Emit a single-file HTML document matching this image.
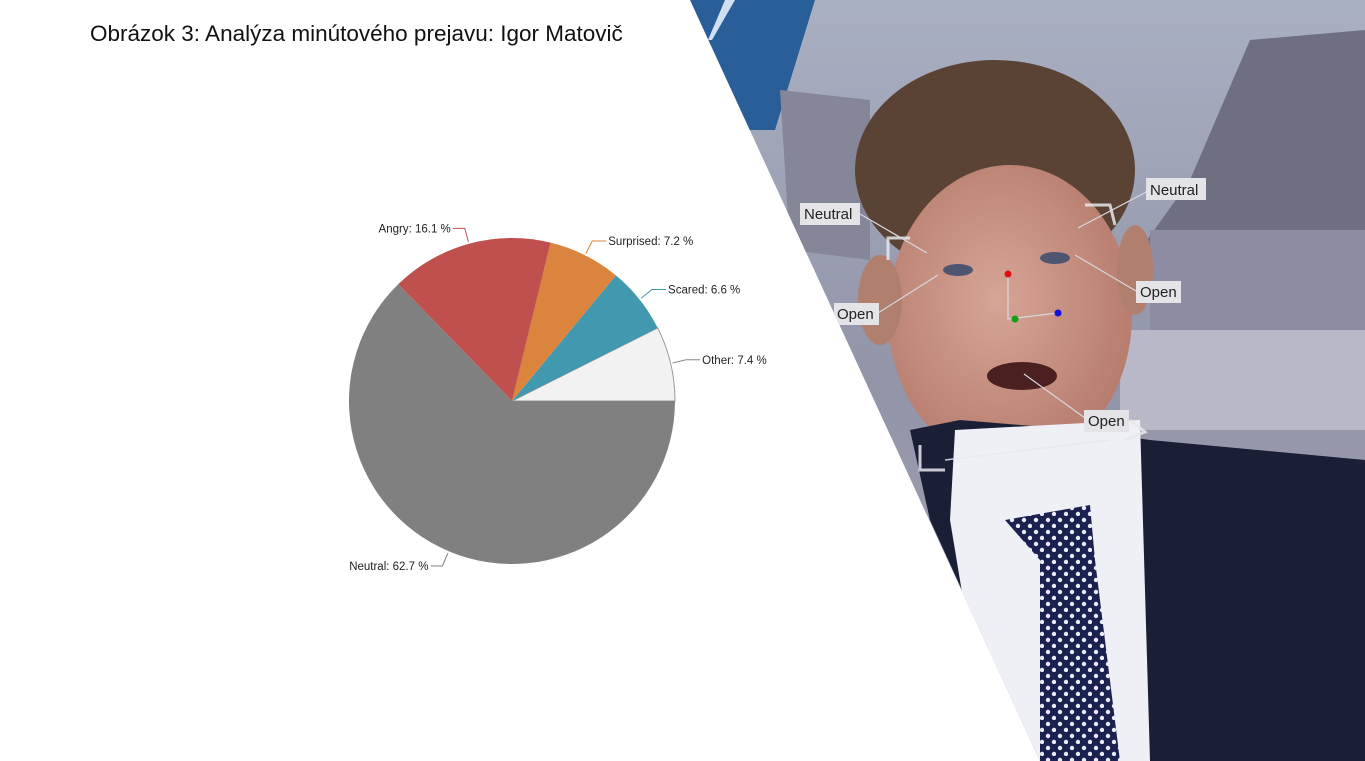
<!DOCTYPE html>
<html><head><meta charset="utf-8"><style>
body{margin:0;width:1365px;height:761px;overflow:hidden;background:#fff;font-family:"Liberation Sans",sans-serif}
#title{position:absolute;left:90px;top:21px;font-size:22.5px;color:#111;white-space:nowrap}
svg{position:absolute;left:0;top:0}
</style></head><body>
<svg width="1365" height="761">
<defs>
<clipPath id="cp"><polygon points="690,0 1365,0 1365,761 1040,761"/></clipPath>
<linearGradient id="bg" x1="0" y1="0" x2="0" y2="1"><stop offset="0" stop-color="#a9b0c2"/><stop offset="0.5" stop-color="#9294a8"/><stop offset="1" stop-color="#a7a5b5"/></linearGradient>
<radialGradient id="skin" cx="0.45" cy="0.45" r="0.6"><stop offset="0" stop-color="#d6a596"/><stop offset="1" stop-color="#b57a6b"/></radialGradient>
<pattern id="dots" width="12" height="12" patternUnits="userSpaceOnUse"><rect width="12" height="12" fill="#1b2250"/><circle cx="4" cy="4" r="2.2" fill="#e8ecf5"/><circle cx="10" cy="10" r="2.2" fill="#e8ecf5"/></pattern>
</defs>
<g clip-path="url(#cp)">
<rect x="680" y="0" width="690" height="761" fill="url(#bg)"/>
<polygon points="690,0 815,0 775,130 745,130" fill="#2a5e98"/>
<polygon points="725,0 735,0 712,40 708,40" fill="#cfe0f0"/>
<polygon points="780,90 870,100 870,260 790,250" fill="#858799"/>
<polygon points="1250,40 1365,30 1365,300 1140,250 1190,180" fill="#6e7082"/>
<rect x="1150" y="230" width="215" height="200" fill="#8e8ca2"/>
<rect x="1120" y="330" width="245" height="100" fill="#b9b8c8"/>
<ellipse cx="995" cy="170" rx="140" ry="110" fill="#5a4335"/>
<ellipse cx="1010" cy="315" rx="122" ry="150" fill="url(#skin)"/>
<ellipse cx="880" cy="300" rx="22" ry="45" fill="#b07f6e"/>
<ellipse cx="1135" cy="270" rx="18" ry="45" fill="#b07f6e"/>
<polygon points="910,430 960,420 1080,430 1150,440 1365,460 1365,761 1040,761 930,520" fill="#1a1f36"/>
<polygon points="955,430 1140,420 1150,761 990,761 950,520" fill="#eef0f6"/>
<polygon points="1005,520 1090,505 1095,560 1120,761 1040,761 1040,560" fill="url(#dots)"/>
<ellipse cx="1022" cy="376" rx="35" ry="14" fill="#4a2020"/>
<ellipse cx="958" cy="270" rx="15" ry="6" fill="#4d5570"/>
<ellipse cx="1055" cy="258" rx="15" ry="6" fill="#4d5570"/>
<g fill="none" stroke="#e8e8ee" stroke-width="3" opacity="0.85">
<polyline points="888,260 888,238 910,238"/><polyline points="920,445 920,470 945,470"/>
<polyline points="1085,205 1110,205 1115,225"/><polyline points="1130,420 1145,432 1125,440"/>
<line x1="945" y1="460" x2="1110" y2="440" stroke-width="1.5"/>
</g>
<g fill="none" stroke="#d8d8de" stroke-width="1.2"><line x1="860" y1="214" x2="927" y2="253"/><line x1="1150" y1="190" x2="1078" y2="228"/><line x1="878" y1="313" x2="938" y2="275"/><line x1="1136" y1="291" x2="1075" y2="255"/><line x1="1085" y1="418" x2="1024" y2="374"/><polyline points="1008,274 1008,319 1058,313"/></g>
<circle cx="1008" cy="274" r="3.5" fill="#e01010"/><circle cx="1015" cy="319" r="3.5" fill="#10a010"/><circle cx="1058" cy="313" r="3.5" fill="#1010e0"/>
<g font-size="15" fill="#222">
<rect x="800" y="203" width="60" height="22" fill="#e4e4e8"/><text x="804" y="219">Neutral</text>
<rect x="1146" y="178" width="60" height="22" fill="#e4e4e8"/><text x="1150" y="195">Neutral</text>
<rect x="834" y="303" width="45" height="22" fill="#e4e4e8"/><text x="837" y="319">Open</text>
<rect x="1136" y="281" width="45" height="22" fill="#e4e4e8"/><text x="1140" y="297">Open</text>
<rect x="1084" y="410" width="45" height="22" fill="#e4e4e8"/><text x="1088" y="426">Open</text>
</g>
</g>
</svg>
<div id="title">Obrázok 3: Analýza minútového prejavu: Igor Matovič</div>
<svg id="pie" width="1365" height="761"></svg>
<script>
const categories=["Other","Scared","Surprised","Angry","Neutral"];
const values=[7.4,6.6,7.2,16.1,62.7];
const colors=["#f2f2f2","#4199b0","#db843d","#c0504d","#808080"];
const labelText=["Other: 7.4 %","Scared: 6.6 %","Surprised: 7.2 %","Angry: 16.1 %","Neutral: 62.7 %"];
const NS="http://www.w3.org/2000/svg";
const svg=document.getElementById('pie');
const cx=512,cy=401,R=163;
const total=values.reduce((a,b)=>a+b,0);
function pt(a,r){return [cx+r*Math.cos(a),cy-r*Math.sin(a)];}
let a0=0;
values.forEach((v,i)=>{
  const a1=a0+v/total*2*Math.PI;
  const p0=pt(a0,R),p1=pt(a1,R);
  const large=(a1-a0)>Math.PI?1:0;
  const path=document.createElementNS(NS,'path');
  path.setAttribute('d',`M${cx},${cy} L${p0[0]},${p0[1]} A${R},${R} 0 ${large} 0 ${p1[0]},${p1[1]} Z`);
  path.setAttribute('fill',colors[i]);
  if(i===0){path.setAttribute('stroke','#999');path.setAttribute('stroke-width','1');}
  
  
  svg.appendChild(path);
  const am=(a0+a1)/2;
  const e=pt(am,R+2),m=pt(am,R+16);
  const right=Math.cos(am)>=0;
  const ex=m[0]+(right?14:-12);
  const line=document.createElementNS(NS,'polyline');
  line.setAttribute('points',`${e[0]},${e[1]} ${m[0]},${m[1]} ${ex},${m[1]}`);
  line.setAttribute('fill','none');
  line.setAttribute('stroke',i===0?'#888':colors[i]);
  
  
  svg.appendChild(line);
  const t=document.createElementNS(NS,'text');
  t.setAttribute('x',right?ex+2:ex-2);
  t.setAttribute('y',m[1]+4);
  t.setAttribute('font-size','11.5');
  t.setAttribute('fill','#222');
  t.setAttribute('text-anchor',right?'start':'end');
  t.textContent=labelText[i];
  
  
  svg.appendChild(t);
  a0=a1;
});
</script>
</body></html>
